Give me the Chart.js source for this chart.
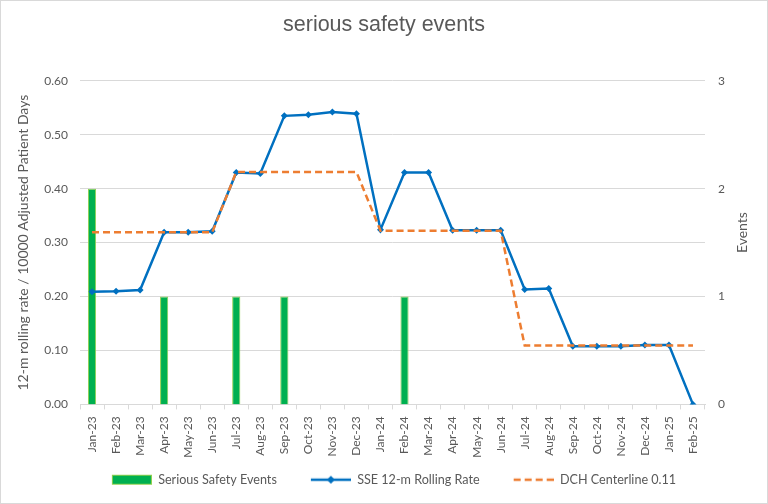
<!DOCTYPE html>
<html>
  <head>
    <title>serious safety events</title>
    <script src="https://cdn.jsdelivr.net/npm/chart.js"></script>
    <style>
      body { margin: 0; background: #fff; }
      #wrap { width: 768px; height: 504px; position: relative; }
    </style>
  </head>
  <body>
    <div id="wrap"><canvas id="myChart"></canvas></div>

<script>
// categorie (mesi)
const mesi = ["Jan-23", "Feb-23", "Mar-23", "Apr-23", "May-23", "Jun-23", "Jul-23", "Aug-23",
  "Sep-23", "Oct-23", "Nov-23", "Dec-23", "Jan-24", "Feb-24", "Mar-24", "Apr-24", "May-24",
  "Jun-24", "Jul-24", "Aug-24", "Sep-24", "Oct-24", "Nov-24", "Dec-24", "Jan-25", "Feb-25"];

// eventi (asse destro)
const eventi = [2, 0, 0, 1, 0, 0, 1, 0, 1, 0, 0, 0, 0, 1, 0, 0, 0, 0, 0, 0, 0, 0, 0, 0, 0, 0];

// tasso mobile 12 mesi
const tasso = [0.209, 0.210, 0.212, 0.319, 0.319, 0.321, 0.430, 0.428, 0.535, 0.537, 0.542, 0.539,
  0.324, 0.430, 0.430, 0.323, 0.323, 0.323, 0.213, 0.215, 0.108, 0.108, 0.108, 0.110, 0.110, 0.000];

// linea centrale
const centro = [0.319, 0.319, 0.319, 0.319, 0.319, 0.319, 0.431, 0.431, 0.431, 0.431, 0.431, 0.431,
  0.322, 0.322, 0.322, 0.322, 0.322, 0.322, 0.109, 0.109, 0.109, 0.109, 0.109, 0.109, 0.109, 0.109];

const etichetteLegenda = ["Serious Safety Events", "SSE 12-m Rolling Rate", "DCH Centerline 0.11"];
const titoloDestro = "Events";

const VERDE = "#00B050", VERDE_BORDO = "#92D050", BLU = "#0070C0", ARANCIO = "#ED7D31", GRIGIO = "#595959";
const FONT = "Lato, 'Open Sans', sans-serif";

// icone legenda: 20px vuoti a sinistra (spazio tra le voci) + 40px di simbolo
function icona(tipo) {
  const c = document.createElement("canvas");
  c.width = 60; c.height = 12;
  const g = c.getContext("2d");
  g.translate(20, 0);
  if (tipo === "bar") {
    g.fillStyle = VERDE; g.fillRect(0.5, 1.5, 39, 9);
    g.strokeStyle = VERDE_BORDO; g.lineWidth = 1; g.strokeRect(0.5, 1.5, 39, 9);
  } else if (tipo === "line") {
    g.strokeStyle = BLU; g.lineWidth = 2.5;
    g.beginPath(); g.moveTo(0, 6); g.lineTo(40, 6); g.stroke();
    g.fillStyle = BLU; g.beginPath();
    g.moveTo(20, 2); g.lineTo(24, 6); g.lineTo(20, 10); g.lineTo(16, 6); g.closePath(); g.fill();
  } else {
    g.strokeStyle = ARANCIO; g.lineWidth = 2.5; g.setLineDash([7, 4]);
    g.beginPath(); g.moveTo(0, 6); g.lineTo(40, 6); g.stroke();
  }
  return c;
}
const icone = [icona("bar"), icona("line"), icona("dash")];

// sfondo bianco, bordo grigio e titolo dell'asse destro (letto dal basso verso l'alto)
const cornice = {
  id: "cornice",
  beforeDraw(chart) {
    const ctx = chart.ctx;
    ctx.save();
    ctx.fillStyle = "#fff";
    ctx.fillRect(0, 0, chart.width, chart.height);
    ctx.strokeStyle = "#d9d9d9";
    ctx.lineWidth = 1;
    ctx.strokeRect(0.5, 0.5, chart.width - 1, chart.height - 1);
    ctx.restore();
  },
  afterDraw(chart) {
    const ctx = chart.ctx;
    const a = chart.chartArea;
    ctx.save();
    ctx.translate(chart.width - 26, (a.top + a.bottom) / 2 - 10);
    ctx.rotate(-Math.PI / 2);
    ctx.font = "14px " + FONT;
    ctx.fillStyle = GRIGIO;
    ctx.textAlign = "center";
    ctx.textBaseline = "middle";
    ctx.fillText(titoloDestro, 0, 0);
    ctx.restore();
  }
};

Chart.defaults.font.family = FONT;
Chart.defaults.color = GRIGIO;

const ctx = document.getElementById("myChart").getContext("2d");
const chart = new Chart(ctx, {
  type: "bar",
  data: {
    labels: mesi,
    datasets: [
      {
        type: "bar",
        label: etichetteLegenda[0],
        data: eventi,
        yAxisID: "y2",
        backgroundColor: VERDE,
        borderColor: VERDE_BORDO,
        borderWidth: 1,
        barPercentage: 0.34,
        categoryPercentage: 1,
        order: 3
      },
      {
        type: "line",
        label: etichetteLegenda[1],
        data: tasso,
        yAxisID: "y",
        borderColor: BLU,
        backgroundColor: BLU,
        borderWidth: 2.5,
        pointStyle: "rectRot",
        pointRadius: 3.5,
        pointBorderWidth: 0,
        tension: 0,
        fill: false,
        order: 2
      },
      {
        type: "line",
        label: etichetteLegenda[2],
        data: centro,
        yAxisID: "y",
        borderColor: ARANCIO,
        borderWidth: 2.5,
        borderDash: [7, 4],
        pointRadius: 0,
        tension: 0,
        fill: false,
        order: 1
      }
    ]
  },
  options: {
    responsive: true,
    maintainAspectRatio: false,
    animation: false,
    layout: { padding: { left: 0, right: 0, top: 0, bottom: 8 } },
    plugins: {
      title: {
        display: true,
        text: "serious safety events",
        color: GRIGIO,
        font: { family: "'Liberation Sans', Arial, sans-serif", size: 21.5, weight: "normal" },
        padding: { top: 12, bottom: 43 }
      },
      legend: {
        position: "bottom",
        labels: {
          usePointStyle: true,
          pointStyleWidth: 60,
          padding: 14,
          font: { size: 12.6 },
          color: GRIGIO,
          generateLabels: (c) => etichetteLegenda.map((t, i) => ({
            text: t,
            pointStyle: icone[i],
            fillStyle: "transparent",
            strokeStyle: "transparent",
            lineWidth: 0,
            datasetIndex: i,
            fontColor: GRIGIO
          }))
        }
      },
      tooltip: { enabled: false }
    },
    scales: {
      x: {
        grid: { drawOnChartArea: false, drawTicks: true, tickLength: 5, offset: true, color: "#d9d9d9" },
        border: { display: true, color: "#d9d9d9" },
        ticks: { minRotation: 90, maxRotation: 90, autoSkip: false, padding: 7, font: { size: 12 } },
        afterFit: (s) => { s.height = 55; }
      },
      y: {
        position: "left",
        min: 0, max: 0.6,
        ticks: { stepSize: 0.1, padding: 12, font: { size: 12 }, callback: (v) => v.toFixed(2) },
        grid: { color: "#d9d9d9", drawTicks: false },
        border: { display: false },
        title: {
          display: true,
          text: "12-m rolling rate / 10000 Adjusted Patient Days",
          font: { size: 14 },
          padding: { top: 15, bottom: 0 }
        },
        afterFit: (s) => { s.width = 80; }
      },
      y2: {
        position: "right",
        min: 0, max: 3,
        ticks: { stepSize: 1, padding: 13, font: { size: 12 } },
        grid: { display: false, drawTicks: false },
        border: { display: false },
        afterFit: (s) => { s.width = 63; }
      }
    }
  },
  plugins: [cornice]
});
</script>
  </body>
</html>
